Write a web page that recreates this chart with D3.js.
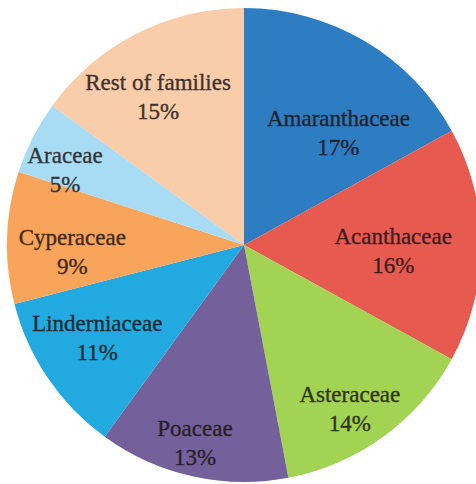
<!DOCTYPE html>
<html><head><meta charset="utf-8">
<script src="https://cdn.jsdelivr.net/npm/d3@7"></script>
<style>html,body{margin:0;padding:0;background:#fff;overflow:hidden}</style>
</head><body>
<svg id="chart" width="476" height="484"></svg>
<script>
const families = ["Amaranthaceae","Acanthaceae","Asteraceae","Poaceae","Linderniaceae","Cyperaceae","Araceae","Rest of families"];
const shares = [17,16,14,13,11,9,5,15];
const sliceColors = ["#2e7dc2","#e65a50","#a2d352","#74609a","#22a9df","#f8a45a","#a8dcf4","#f9cdaa"];
// label placement (polar, degrees clockwise from top, fraction of radius)
const labelAngle = [40,92,147,194,238,268,293,330];
const labelDist = [0.62,0.63,0.82,0.855,0.73,0.725,0.82,0.725];

const svg = d3.select("#chart");
const cx = 244, cy = 245, R = 237;
const g = svg.append("g").attr("transform",`translate(${cx},${cy})`);
const data = families.map((f,i)=>({name:f,value:shares[i],i}));
const pie = d3.pie().value(d=>d.value).sort(null);
const arc = d3.arc().innerRadius(0).outerRadius(R);
const color = d3.scaleOrdinal().domain(families).range(sliceColors);

g.selectAll("path.slice").data(pie(data)).join("path")
  .attr("class","slice").attr("d",arc).attr("fill",d=>color(d.data.name));

const labels = g.selectAll("g.lbl").data(pie(data)).join("g").attr("class","lbl")
  .attr("transform",d=>{
    const a = labelAngle[d.data.i]*Math.PI/180, r = labelDist[d.data.i]*R;
    return `translate(${r*Math.sin(a)},${-r*Math.cos(a)})`;
  });
const txtColor = d => d3.interpolateRgb(color(d.data.name), "#1a1010")(0.82);
function styleText(sel){
  sel.attr("text-anchor","middle")
    .attr("font-family","'Liberation Serif','Times New Roman',serif").attr("font-size",23)
    .attr("fill",txtColor).attr("stroke",txtColor).attr("stroke-width",0.35);
}
labels.append("text").attr("y",-6).call(styleText).text(d=>d.data.name);
labels.append("text").attr("y",23).call(styleText).text(d=>d.data.value+"%");
</script>
</body></html>
